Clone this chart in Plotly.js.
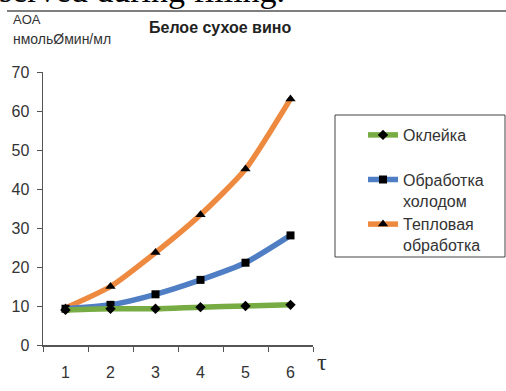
<!DOCTYPE html>
<html>
<head>
<meta charset="utf-8">
<script src="https://cdn.plot.ly/plotly-3.0.1.min.js"></script>
<style>html,body{margin:0;padding:0;background:#fff;}#chart{width:506px;height:391px;}</style>
</head>
<body>
<div id="chart"></div>
<script>
const categories = ['1', '2', '3', '4', '5', '6'];
const seriesNames = ['Оклейка', 'Обработка<br>холодом', 'Тепловая<br>обработка'];
const oklejka = [9.0, 9.3, 9.3, 9.7, 10.0, 10.3];
const holodom = [9.3, 10.3, 13.0, 16.7, 21.1, 28.1];
const teplovaya = [9.5, 15.0, 23.7, 33.4, 45.1, 63.1];
const yTicks = [0, 10, 20, 30, 40, 50, 60, 70];

const font = 'Arial, "Liberation Sans", sans-serif';

function tr(name, y, color, symbol, msize, rank) {
  return {
    type: 'scatter', mode: 'lines+markers', x: categories, y: y, name: name,
    line: {color: color, width: 5.5, shape: 'spline', smoothing: 0.6},
    marker: {color: '#000', symbol: symbol, size: msize},
    legendrank: rank
  };
}

const data = [
  tr(seriesNames[2], teplovaya, '#ee8a40', 'triangle-up', 9, 3),
  tr(seriesNames[1], holodom, '#4f7ec4', 'square', 8, 2),
  tr(seriesNames[0] + '<br> ', oklejka, '#77ab43', 'diamond', 8, 1)
];

const layout = {
  width: 506, height: 391,
  margin: {l: 43, r: 193, t: 72, b: 46},
  paper_bgcolor: '#fff', plot_bgcolor: '#fff',
  font: {family: font, color: '#333'},
  showlegend: true,
  title: {
    text: '<b>Белое сухое вино</b>', xref: 'paper', yref: 'container',
    x: (149 - 43) / 270, xanchor: 'left', y: 1 - 27 / 391, yanchor: 'middle',
    font: {family: font, size: 16, color: '#222'}
  },
  xaxis: {
    type: 'category', range: [-0.5, 5.5], tickson: 'boundaries',
    ticks: 'outside', ticklen: 5, tickcolor: '#555', showline: true, linecolor: '#555', linewidth: 1.5,
    showgrid: false, zeroline: false, fixedrange: true,
    tickfont: {family: font, size: 16, color: '#333'}, ticklabelstandoff: 12
  },
  yaxis: {
    range: [0, 70], tickvals: yTicks, ticks: 'outside', ticklen: 5, tickcolor: '#555',
    showline: true, linecolor: '#555', linewidth: 1.5, showgrid: false, zeroline: false,
    tickfont: {family: font, size: 16, color: '#333'}, ticklabelstandoff: 4
  },
  legend: {
    x: (335 - 43) / 270, xanchor: 'left', y: (345 - 118) / 273, yanchor: 'top',
    valign: 'top', indentation: 28, bgcolor: 'rgba(0,0,0,0)', borderwidth: 0,
    font: {family: font, size: 16, color: '#333'}, tracegroupgap: 0
  },
  shapes: [
    {type: 'rect', xref: 'paper', yref: 'paper', x0: (335 - 43) / 270, x1: (505 - 43) / 270,
     y0: (345 - 257) / 273, y1: (345 - 115) / 273, line: {color: '#444', width: 1}},
    {type: 'line', xref: 'paper', yref: 'paper', x0: -36 / 270, x1: 463 / 270,
     y0: (345 - 11) / 273, y1: (345 - 11) / 273, line: {color: '#000', width: 1.2}}
  ],
  annotations: [
    {text: 'served during filling.', xref: 'paper', yref: 'paper', x: -46 / 270, xanchor: 'left',
     y: (345 - 11) / 273, yanchor: 'bottom', showarrow: false,
     font: {family: '"Liberation Serif", "Times New Roman", serif', size: 34, color: '#000'}},
    {text: 'AOA', xref: 'paper', yref: 'paper', x: -32 / 270, xanchor: 'left',
     y: (345 - 19) / 273, yanchor: 'middle', showarrow: false,
     font: {family: font, size: 13, color: '#333'}},
    {text: 'нмольØмин/мл', xref: 'paper', yref: 'paper', x: -32 / 270, xanchor: 'left',
     y: (345 - 39) / 273, yanchor: 'middle', showarrow: false,
     font: {family: font, size: 14, color: '#333'}},
    {text: 'τ', xref: 'paper', yref: 'paper', x: (322 - 43) / 270, xanchor: 'center',
     y: (345 - 362) / 273, yanchor: 'middle', showarrow: false,
     font: {family: '"Liberation Serif", "DejaVu Serif", serif', size: 24, color: '#333'}}
  ]
};

Plotly.newPlot('chart', data, layout, {displayModeBar: false, staticPlot: true});
</script>
</body>
</html>
